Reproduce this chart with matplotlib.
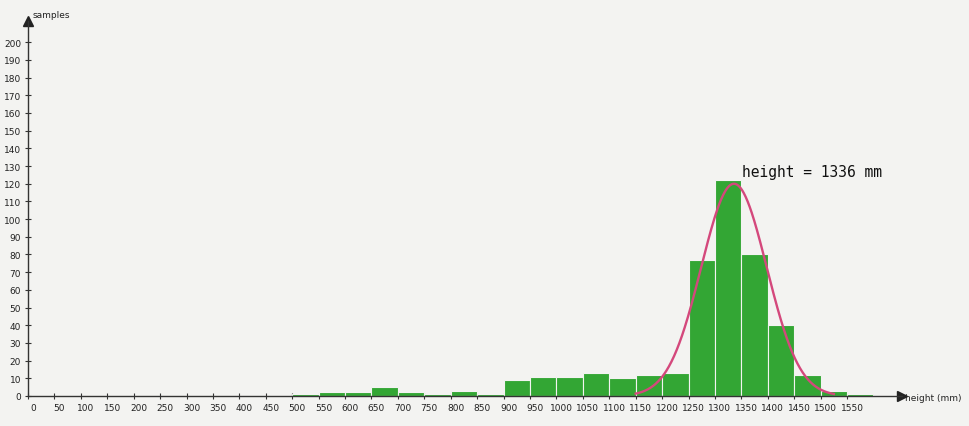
import numpy as np
import matplotlib.pyplot as plt
import matplotlib.transforms as mtransforms

# bins (left edges, mm) and counts
bin_left = [500, 550, 600, 650, 700, 750, 800, 850, 900, 950, 1000, 1050,
            1100, 1150, 1200, 1250, 1300, 1350, 1400, 1450, 1500, 1550]
counts = [1, 2, 2, 5, 2, 1, 3, 1, 9, 11, 11, 13,
          10, 12, 13, 77, 122, 80, 40, 12, 3, 1]
bin_width = 50

# fitted normal curve
fit_mean = 1336
fit_sigma = 62
fit_peak = 120
fit_range = (1150, 1525)

x_ticks = list(range(0, 1551, 50))
y_ticks = list(range(0, 201, 10))

bg = '#f3f3f1'
fig = plt.figure(figsize=(9.7, 4.27), dpi=100, facecolor=bg)
ax = fig.add_axes([28 / 970, 30 / 427, 874 / 970, 375 / 427])
ax.set_facecolor(bg)

ax.bar(bin_left, counts, width=bin_width, align='edge', color='#33a634',
       edgecolor='#f3f3f1', linewidth=0.8, zorder=2)

xs = np.linspace(fit_range[0], fit_range[1], 300)
ys = fit_peak * np.exp(-0.5 * ((xs - fit_mean) / fit_sigma) ** 2)
ax.plot(xs, ys, color='#d4487c', lw=1.7, zorder=3)

ax.text(1351, 127, 'height = 1336 mm', family='DejaVu Sans Mono', fontsize=10.5,
        color='#111111', va='center', ha='left')

ax.set_xlim(0, 1654)
ax.set_ylim(0, 212)
for s in ['top', 'right']:
    ax.spines[s].set_visible(False)
for s in ['left', 'bottom']:
    ax.spines[s].set_color('#333333')
    ax.spines[s].set_linewidth(1)

ax.set_xticks(x_ticks)
ax.set_yticks(y_ticks)
ax.tick_params(axis='both', direction='inout', length=4, width=0.8, color='#333333',
               labelsize=6.5, labelcolor='#222222')
ax.tick_params(axis='x', pad=3)
ax.tick_params(axis='y', pad=3)

# labels sit a little right of the ticks
offset = mtransforms.ScaledTranslation(5 / 100, 0, fig.dpi_scale_trans)
for lab in ax.get_xticklabels():
    lab.set_transform(lab.get_transform() + offset)

# arrow heads
ax.plot(0, 1, marker='^', color='#222222', markersize=7, transform=ax.transAxes, clip_on=False)
ax.plot(1, 0, marker='>', color='#222222', markersize=7, transform=ax.transAxes, clip_on=False)

fig.text(905 / 970, 1 - 399 / 427, 'height (mm)', fontsize=6.5, color='#222222', va='center')
fig.text(33 / 970, 1 - 16 / 427, 'samples', fontsize=6.5, color='#222222', va='center')

plt.savefig('out.png', dpi=100, facecolor=bg)
